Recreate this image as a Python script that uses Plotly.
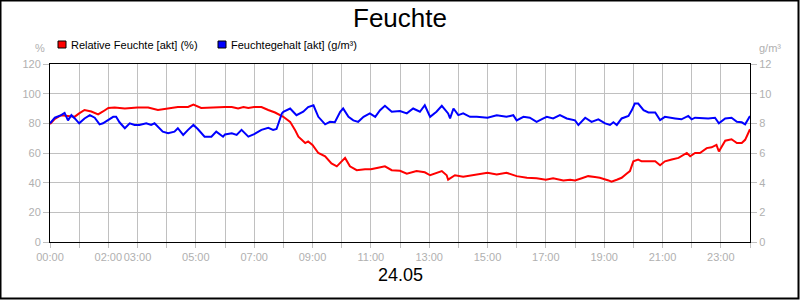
import plotly.graph_objects as go

# ---- data ----
red_times = ["00:00", "00:10", "00:23", "00:37", "00:51", "01:00", "01:11", "01:25", "01:39", "01:49",
             "02:00", "02:13", "02:34", "03:00", "03:22", "03:42", "04:00", "04:23", "04:44", "04:55",
             "05:11", "05:39", "06:00", "06:14", "06:27", "06:38", "06:48", "07:00", "07:15", "07:29",
             "07:43", "08:00", "08:14", "08:24", "08:31", "08:45", "08:51", "09:00", "09:12", "09:26",
             "09:39", "09:50", "10:00", "10:07", "10:17", "10:31", "10:48", "11:00", "11:15", "11:29",
             "11:43", "12:00", "12:14", "12:34", "12:51", "13:02", "13:26", "13:36", "13:39", "13:53",
             "14:10", "14:38", "15:00", "15:19", "15:39", "16:00", "16:21", "16:41", "17:00", "17:15",
             "17:36", "17:50", "18:00", "18:14", "18:27", "18:41", "18:51", "19:09", "19:15", "19:26",
             "19:36", "19:46", "19:53", "20:00", "20:10", "20:17", "20:31", "20:45", "20:55", "21:05",
             "21:19", "21:33", "21:50", "21:57", "22:07", "22:17", "22:31", "22:41", "22:51", "22:56",
             "23:09", "23:22", "23:33", "23:43", "23:50", "24:00"]
red_values = [79.5, 83, 85.5, 85, 84.5, 86.7, 89, 88, 86, 88,
              90.4, 90.7, 90, 90.7, 90.7, 89, 90, 91, 91, 92.7,
              90.4, 91, 91, 91, 90, 91, 90.4, 91, 91, 89,
              87.3, 84.4, 81, 75.6, 71, 66.7, 67.8, 65.5, 60, 57.8,
              53, 51, 54.4, 56.7, 51, 48.4, 49, 49, 50, 51,
              48.4, 48, 46, 47.8, 47, 45, 47.8, 45, 42, 45,
              44, 45.5, 46.7, 45.5, 46.7, 44.4, 43.3, 43, 42, 43,
              41.5, 42, 41.5, 43, 44.4, 43.8, 43.3, 41.5, 40.7, 42,
              43.3, 46, 47.8, 54.4, 55.6, 54.4, 54.4, 54.4, 51.8, 54.4,
              55.6, 56.7, 60, 57.8, 60, 60, 63.3, 63.8, 65.5, 61,
              68.3, 69.3, 66.7, 66.7, 68.9, 76]

blue_times = ["00:00", "00:10", "00:23", "00:30", "00:37", "00:44", "00:51", "01:00", "01:11", "01:22",
              "01:32", "01:42", "01:49", "01:59", "02:10", "02:16", "02:23", "02:34", "02:44", "02:54",
              "03:04", "03:18", "03:28", "03:35", "03:52", "04:03", "04:16", "04:23", "04:34", "04:44",
              "04:55", "05:04", "05:18", "05:32", "05:42", "05:56", "06:00", "06:14", "06:24", "06:34",
              "06:48", "07:00", "07:15", "07:29", "07:39", "07:46", "07:57", "08:00", "08:14", "08:27",
              "08:41", "08:51", "09:02", "09:12", "09:26", "09:36", "09:46", "09:57", "10:03", "10:14",
              "10:24", "10:34", "10:45", "10:58", "11:09", "11:19", "11:29", "11:43", "12:00", "12:14",
              "12:27", "12:41", "12:51", "13:02", "13:15", "13:26", "13:39", "13:43", "13:50", "14:00",
              "14:10", "14:24", "14:38", "15:00", "15:19", "15:39", "15:53", "16:00", "16:14", "16:27",
              "16:41", "16:55", "17:02", "17:15", "17:29", "17:43", "18:00", "18:07", "18:21", "18:34",
              "18:48", "19:02", "19:12", "19:19", "19:26", "19:36", "19:50", "19:57", "20:03", "20:10",
              "20:21", "20:31", "20:45", "20:55", "21:05", "21:26", "21:39", "21:53", "22:00", "22:07",
              "22:34", "22:48", "22:56", "23:09", "23:22", "23:33", "23:43", "23:50", "24:00"]
blue_values = [8.00, 8.38, 8.55, 8.70, 8.20, 8.55, 8.33, 8.00, 8.33, 8.55,
               8.38, 7.93, 8.00, 8.20, 8.44, 8.44, 8.07, 7.67, 8.00, 7.89,
               7.89, 8.00, 7.89, 8.00, 7.44, 7.33, 7.44, 7.67, 7.22, 7.56,
               7.89, 7.62, 7.10, 7.10, 7.44, 7.10, 7.25, 7.33, 7.22, 7.56,
               7.10, 7.27, 7.56, 7.70, 7.56, 7.62, 8.67, 8.78, 9.00, 8.55,
               8.78, 9.10, 9.22, 8.44, 7.93, 8.10, 8.07, 8.78, 9.00, 8.44,
               8.20, 8.10, 8.44, 8.67, 8.44, 8.89, 9.18, 8.78, 8.83, 8.67,
               9.00, 8.78, 9.22, 8.44, 8.78, 9.18, 8.67, 8.33, 9.00, 8.55,
               8.67, 8.44, 8.44, 8.38, 8.55, 8.44, 8.55, 8.20, 8.44, 8.38,
               8.10, 8.33, 8.44, 8.33, 8.55, 8.33, 8.20, 7.89, 8.38, 8.10,
               8.27, 8.00, 7.89, 8.07, 7.89, 8.33, 8.50, 8.89, 9.33, 9.33,
               8.89, 8.73, 8.73, 8.22, 8.44, 8.33, 8.27, 8.50, 8.27, 8.38,
               8.33, 8.38, 8.00, 8.33, 8.38, 8.10, 8.07, 7.93, 8.50]

tick_hours = list(range(25))
tick_labels = ["00:00", "", "02:00", "03:00", "", "05:00", "", "07:00", "", "09:00", "",
               "11:00", "", "13:00", "", "15:00", "", "17:00", "", "19:00", "", "21:00", "",
               "23:00", ""]
left_ticks = [0, 20, 40, 60, 80, 100, 120]
right_ticks = [0, 2, 4, 6, 8, 10, 12]

series_names = ["Relative Feuchte [akt] (%)", "Feuchtegehalt [akt] (g/m³)"]
title_text = "Feuchte"
date_text = "24.05"


def to_hours(t):
    h, m = t.split(":")
    return int(h) + int(m) / 60.0


FONT = "Liberation Sans, Arial, sans-serif"
GRID = "#c0c0c0"
LABEL = "#b0b0b0"
W, H = 800, 300
ML, MR, MT, MB = 50, 50, 64, 58
PW, PH = W - ML - MR, H - MT - MB


def px_x(px):
    return (px - ML) / PW


def px_y(py):
    return (H - MB - py) / PH


fig = go.Figure()
fig.add_trace(go.Scatter(x=[to_hours(t) for t in red_times], y=red_values, mode="lines",
                         line=dict(color="#ff0000", width=2), name=series_names[0],
                         showlegend=False, yaxis="y"))
fig.add_trace(go.Scatter(x=[to_hours(t) for t in blue_times], y=blue_values, mode="lines",
                         line=dict(color="#0000ff", width=2), name=series_names[1],
                         showlegend=False, yaxis="y2"))

fig.update_layout(
    width=W, height=H,
    margin=dict(l=ML, r=MR, t=MT, b=MB, pad=0),
    paper_bgcolor="white", plot_bgcolor="white",
    font=dict(family=FONT, size=11, color=LABEL),
    title=dict(text=title_text, x=0.5, xanchor="center", xref="container",
               y=1 - 18 / H, yanchor="middle", yref="container",
               font=dict(family=FONT, size=26, color="black")),
    xaxis=dict(range=[0, 24], tickvals=tick_hours, ticktext=tick_labels, tickangle=0,
               showgrid=True, gridcolor=GRID, gridwidth=1,
               ticks="outside", ticklen=5, tickcolor=GRID,
               showline=True, linecolor="black", linewidth=1, mirror=True,
               tickfont=dict(family=FONT, size=11, color=LABEL), zeroline=False,
               fixedrange=True),
    yaxis=dict(range=[0, 120], tickvals=left_ticks, showgrid=True, gridcolor=GRID,
               ticks="outside", ticklen=6, tickcolor=GRID,
               showline=True, linecolor="black", linewidth=1, mirror=True,
               tickfont=dict(family=FONT, size=11, color=LABEL), zeroline=False),
    yaxis2=dict(range=[0, 12], tickvals=right_ticks, overlaying="y", side="right",
                showgrid=False, ticks="outside", ticklen=6, tickcolor=GRID,
                showline=False,
                tickfont=dict(family=FONT, size=11, color=LABEL), zeroline=False),
    showlegend=False,
)

annotations = [
    dict(text=date_text, x=0.5, y=px_y(275), xref="paper", yref="paper",
         showarrow=False, xanchor="center", yanchor="middle",
         font=dict(family=FONT, size=18, color="black")),
    dict(text=series_names[0], x=px_x(69), y=px_y(45), xref="paper", yref="paper",
         showarrow=False, xanchor="left", yanchor="middle",
         font=dict(family=FONT, size=11, color="black")),
    dict(text=series_names[1], x=px_x(229), y=px_y(45), xref="paper", yref="paper",
         showarrow=False, xanchor="left", yanchor="middle",
         font=dict(family=FONT, size=11, color="black")),
    dict(text="%", x=px_x(47), y=px_y(48), xref="paper", yref="paper",
         showarrow=False, xanchor="right", yanchor="middle",
         font=dict(family=FONT, size=11, color=LABEL)),
    dict(text="g/m³", x=px_x(757), y=px_y(48), xref="paper", yref="paper",
         showarrow=False, xanchor="left", yanchor="middle",
         font=dict(family=FONT, size=11, color=LABEL)),
]
fig.update_layout(annotations=annotations)

shapes = [
    dict(type="rect", xref="paper", yref="paper",
         x0=px_x(58), x1=px_x(66), y0=px_y(48), y1=px_y(41),
         fillcolor="#ff0000", line=dict(color="black", width=1)),
    dict(type="rect", xref="paper", yref="paper",
         x0=px_x(218), x1=px_x(226), y0=px_y(48), y1=px_y(41),
         fillcolor="#0000ff", line=dict(color="black", width=1)),
    dict(type="rect", xref="paper", yref="paper",
         x0=px_x(0.5), x1=px_x(W - 1.5), y0=px_y(H - 1.5), y1=px_y(0.5),
         fillcolor="rgba(0,0,0,0)", line=dict(color="black", width=2)),
]
fig.update_layout(shapes=shapes)

fig.write_html("out.html")
